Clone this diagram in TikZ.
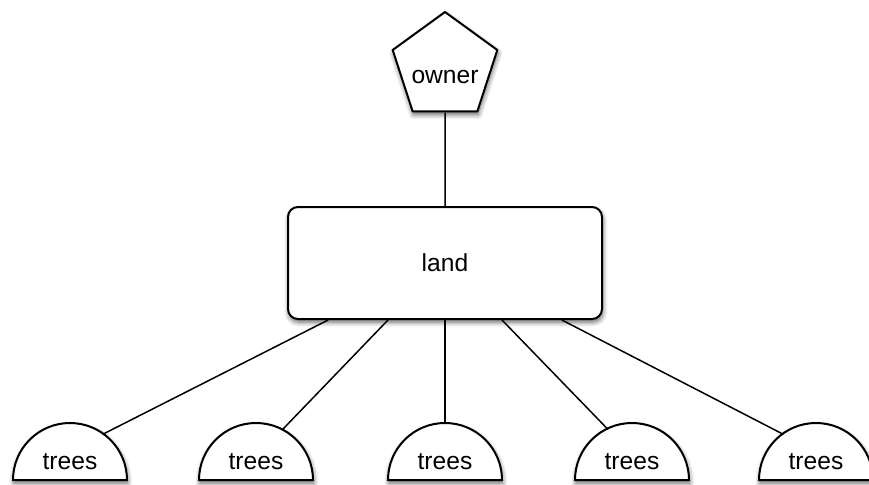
\documentclass[tikz,border=0pt]{standalone}
\usepackage{fontspec}
\setmainfont{Liberation Sans}
\usetikzlibrary{shapes.geometric,shadows.blur,calc}

\begin{document}
\begin{tikzpicture}[x=0.5pt,y=0.5pt,
    every node/.style={font=\fontsize{12.3}{14}\selectfont},
    shade/.style={blur shadow={shadow blur steps=6,shadow xshift=0.4pt,shadow yshift=-1.6pt,shadow opacity=60,shadow blur radius=2.4pt}},
    owner/.style={regular polygon,regular polygon sides=5,draw,line width=1pt,fill=white,minimum size=55pt,inner sep=-9pt,text height=16pt,text depth=0pt,shade},
    landbox/.style={rectangle,rounded corners=5pt,draw,line width=1pt,fill=white,minimum width=157pt,minimum height=56pt,shade},
    tree/.style={semicircle,draw,line width=1pt,fill=white,minimum width=57pt,minimum height=28.5pt,inner sep=0pt,anchor=chord center,shade},
    link/.style={line width=0.75pt}]
    \useasboundingbox (0,0) rectangle (869,484);
     \node[owner] (own) at (445,417) {owner};
     \node[landbox] (land) at (445,221) {land};
     \node[tree] (t1) at (70,3) {trees};
     \node[tree] (t2) at (256,3) {trees};
     \node[tree] (t3) at (445,3) {trees};
     \node[tree] (t4) at (632,3) {trees};
     \node[tree] (t5) at (816,3) {trees};
     \draw[link] (own.south)--(land.north);
     \draw[link] (land.206)--($(t1.chord center)+(55:57)$);
     \draw[link] (land.225)--($(t2.chord center)+(63:57)$);
     \draw[link] (land.south)--(t3.apex);
     \draw[link] (land.315)--($(t4.chord center)+(115:57)$);
     \draw[link] (land.334)--($(t5.chord center)+(125:57)$);
\end{tikzpicture}
\end{document}
